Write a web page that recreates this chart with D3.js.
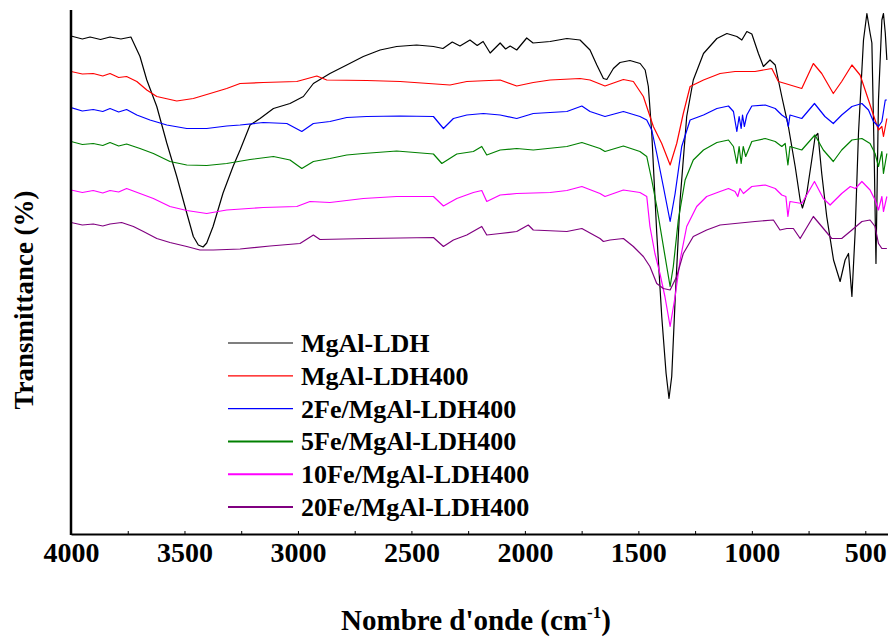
<!DOCTYPE html>
<html>
<head>
<meta charset="utf-8">
<script src="https://cdn.jsdelivr.net/npm/d3@7"></script>
<style>
  html, body { margin: 0; padding: 0; background: #fff; }
  text { font-family: "Liberation Serif", "Times New Roman", "DejaVu Serif", serif; font-weight: bold; }
</style>
</head>
<body>
<div id="chart-area"></div>
<script>
// FTIR spectra, [wavenumber cm-1, transmittance]
const mgalLdh = [
  [4000, 99.6], [3950, 99.0], [3916, 99.4], [3870, 98.9], [3828, 99.4], [3780, 99.0],
  [3736, 99.4], [3696, 95.5], [3666, 90.8],
  [3622, 85.5], [3578, 78.2], [3534, 71.5], [3490, 64.2], [3461, 59.5], [3439, 57.8],
  [3418, 57.4], [3402, 58.2], [3374, 61.5], [3330, 68.2], [3286, 73.5], [3255, 76.8],
  [3211, 81.8], [3167, 83.1], [3108, 85.1], [3035, 86.1], [2976, 87.5], [2932, 90.1],
  [2859, 92.1], [2785, 93.8], [2712, 95.5], [2638, 96.8], [2565, 97.5], [2477, 97.8],
  [2403, 97.5], [2361, 97.1], [2320, 98.4], [2286, 97.6], [2242, 98.8], [2210, 97.7],
  [2184, 98.5], [2153, 96.2],
  [2109, 98.2], [2085, 97.0], [2065, 97.6], [2036, 96.8], [1992, 99.2], [1964, 98.2], [1889, 98.5],
  [1815, 99.1], [1757, 98.8], [1713, 96.8], [1683, 93.8], [1654, 91.1], [1639, 90.9],
  [1610, 93.1], [1581, 94.3], [1537, 94.7], [1492, 94.1], [1470, 92.8], [1456, 89.5],
  [1441, 80.2], [1419, 60.2], [1397, 43.5], [1378, 32.2], [1365, 27.1], [1353, 31.5],
  [1338, 46.8], [1316, 66.8], [1287, 83.5], [1258, 90.8], [1213, 96.1], [1154, 99.1],
  [1110, 100.1], [1066, 99.5], [1044, 98.8], [1022, 100.5], [1000, 100], [971, 96.1],
  [949, 93.5], [920, 94.8], [897, 93.8], [868, 87.5], [839, 81.5], [809, 73.5],
  [787, 66.8], [777, 65.2], [758, 68.1], [736, 74.8], [721, 79.5], [709, 80.1],
  [692, 72.1], [670, 63.5], [640, 54.8], [611, 50.5], [589, 54.8], [574, 56.1],
  [559, 47.5], [545, 60.2], [530, 80.2], [508, 98.8], [493, 104.1], [479, 100.2],
  [471, 98.2], [460, 73.5], [453, 54.1], [442, 86.8], [427, 102.8], [420, 104.1],
  [412, 100.2], [405, 94.8]
];

const mgalLdh400 = [
  [4000, 92.5], [3950, 92.0], [3902, 92.1], [3860, 91.6], [3828, 92.1], [3790, 91.3],
  [3755, 91.5], [3710, 90.5], [3666, 88.8],
  [3622, 87.5], [3534, 86.6], [3461, 87.1], [3387, 88.1], [3314, 89.1], [3255, 90.1],
  [3153, 90.3], [3005, 90.5], [2917, 91.6], [2873, 90.8], [2697, 90.7], [2550, 90.5],
  [2330, 89.8], [2256, 90.5], [2109, 90.8], [2036, 89.6], [1963, 90.3], [1889, 90.8],
  [1757, 91.1], [1713, 90.8], [1647, 89.6], [1566, 90.9], [1522, 90.5], [1478, 87.5],
  [1434, 81.5], [1397, 78.1], [1360, 73.8], [1331, 78.1], [1302, 84.1], [1272, 89.5],
  [1213, 90.8], [1140, 92.1], [1074, 92.5], [986, 92.5], [912, 93.1], [883, 90.5],
  [853, 90.1], [780, 89.1], [729, 94.1], [692, 92.1], [641, 88.1], [604, 90.5],
  [559, 93.8], [523, 91.8], [486, 86.8], [457, 82.8], [442, 80.8], [427, 81.5],
  [420, 79.5], [405, 83.1]
];

const fe2 = [
  [4000, 85.3], [3950, 84.6], [3902, 84.9], [3860, 84.5], [3828, 85.1], [3790, 84.4],
  [3755, 84.9], [3710, 83.8], [3652, 82.8],
  [3578, 81.8], [3490, 81.1], [3402, 81.1], [3314, 81.6], [3255, 81.8], [3153, 82.3],
  [3049, 82.1], [2983, 80.5], [2932, 82.1], [2859, 82.5], [2785, 83.3], [2697, 83.5],
  [2550, 83.6], [2403, 83.5], [2359, 81.1], [2315, 83.1], [2256, 83.8], [2183, 84.1],
  [2109, 83.8], [2036, 83.1], [1963, 84.1], [1815, 84.5], [1749, 85.6], [1713, 84.5],
  [1647, 83.5], [1566, 84.5], [1493, 83.5], [1463, 82.8], [1441, 80.8], [1419, 76.1],
  [1390, 69.5], [1360, 62.5], [1338, 68.1], [1309, 77.5], [1272, 82.8], [1213, 83.8],
  [1154, 85.1], [1103, 85.6], [1081, 84.5], [1066, 80.5], [1056, 83.5], [1047, 81.1],
  [1041, 83.8], [1033, 81.5], [1022, 83.8], [1000, 85.6], [941, 85.8], [897, 85.1],
  [868, 83.8], [846, 83.1], [839, 81.5], [832, 83.8], [780, 83.1], [724, 86.1],
  [678, 83.5], [641, 82.1], [604, 83.8], [559, 85.5], [515, 86.1], [486, 84.8],
  [464, 82.5], [442, 81.5], [427, 82.5], [412, 86.8], [405, 86.8]
];

const fe5 = [
  [4000, 78.5], [3950, 77.9], [3902, 78.1], [3860, 77.7], [3828, 78.3], [3790, 77.6],
  [3755, 78.0], [3696, 77.1], [3637, 76.1],
  [3564, 74.5], [3490, 73.8], [3402, 73.7], [3314, 74.1], [3211, 74.9], [3108, 75.5],
  [3035, 74.8], [2983, 73.1], [2932, 74.5], [2859, 75.1], [2785, 75.8], [2712, 76.1],
  [2565, 76.6], [2403, 76.0], [2366, 74.1], [2300, 76.0], [2227, 76.5], [2190, 77.5],
  [2168, 75.8], [2109, 76.8], [2036, 77.1], [1963, 76.8], [1815, 77.5], [1749, 78.3],
  [1669, 77.1], [1647, 76.5], [1566, 77.6], [1493, 76.5], [1463, 75.5], [1441, 70.8],
  [1419, 65.5], [1397, 59.5], [1375, 53.5], [1360, 49.5], [1346, 53.5], [1324, 62.8],
  [1294, 70.8], [1258, 74.8], [1213, 76.8], [1154, 78.3], [1103, 78.8], [1081, 77.5],
  [1066, 74.1], [1056, 77.5], [1047, 74.1], [1038, 77.5], [1027, 75.5], [1000, 78.5],
  [941, 79.1], [897, 78.5], [868, 77.5], [853, 78.1], [841, 73.8], [832, 77.5],
  [780, 76.8], [722, 79.8], [685, 76.8], [641, 74.5], [604, 76.8], [559, 78.8],
  [515, 79.1], [479, 78.1], [457, 76.1], [442, 73.5], [427, 76.5], [420, 72.1],
  [405, 76.1]
];

const fe10 = [
  [4000, 68.8], [3950, 68.3], [3902, 68.7], [3860, 68.2], [3828, 68.7], [3790, 68.4],
  [3755, 69.1], [3696, 68.1], [3637, 67.1],
  [3564, 65.5], [3490, 64.7], [3402, 64.1], [3314, 64.8], [3153, 65.3], [3005, 65.5],
  [2947, 66.5], [2859, 66.3], [2712, 67.1], [2565, 67.5], [2403, 67.5], [2359, 65.6],
  [2300, 67.1], [2227, 68.3], [2190, 68.7], [2168, 66.5], [2109, 67.8], [2036, 68.1],
  [1889, 68.3], [1815, 68.7], [1749, 69.5], [1669, 68.1], [1647, 67.5], [1566, 68.8],
  [1493, 68.3], [1463, 67.5], [1449, 61.5], [1427, 56.1], [1405, 52.1], [1383, 47.5],
  [1360, 41.5], [1338, 47.5], [1316, 54.8], [1287, 61.5], [1243, 65.5], [1199, 67.5],
  [1140, 68.5], [1103, 69.1], [1074, 68.5], [1062, 67.5], [1052, 69.1], [1037, 68.1],
  [1000, 69.5], [941, 69.8], [897, 69.1], [868, 67.8], [850, 67.5], [841, 63.5],
  [832, 66.5], [780, 66.1], [724, 70.5], [685, 67.1], [655, 65.8], [604, 68.1],
  [566, 69.5], [544, 69.1], [515, 70.5], [479, 68.8], [457, 66.8], [442, 64.8],
  [427, 67.5], [420, 64.5], [405, 67.5]
];

const fe20 = [
  [4000, 62.3], [3950, 61.8], [3902, 62.0], [3860, 61.6], [3828, 62.0], [3777, 62.3],
  [3725, 61.5], [3681, 60.5],
  [3622, 59.1], [3564, 58.3], [3490, 57.5], [3432, 56.8], [3373, 56.8], [3255, 57.0],
  [3123, 57.6], [2991, 58.1], [2932, 59.8], [2903, 58.9], [2697, 59.1], [2403, 59.3],
  [2359, 57.5], [2315, 58.8], [2256, 59.8], [2190, 61.5], [2168, 59.8], [2109, 60.1],
  [2036, 60.5], [1985, 61.8], [1963, 60.8], [1815, 60.5], [1749, 61.1], [1669, 59.1],
  [1654, 58.5], [1625, 58.8], [1566, 59.1], [1522, 57.5], [1478, 55.5], [1449, 53.5],
  [1419, 50.1], [1390, 49.1], [1360, 48.8], [1331, 51.5], [1302, 56.1], [1258, 59.5],
  [1199, 60.8], [1140, 61.8], [1074, 62.1], [986, 62.5], [905, 62.8], [876, 60.8],
  [846, 61.1], [817, 61.1], [787, 59.1], [729, 63.5], [692, 61.5], [648, 59.1],
  [604, 59.1], [559, 60.8], [515, 62.5], [479, 62.8], [457, 61.5], [442, 58.1],
  [427, 57.1], [405, 57.1]
];

const seriesNames = ['MgAl-LDH', 'MgAl-LDH400', '2Fe/MgAl-LDH400', '5Fe/MgAl-LDH400',
                     '10Fe/MgAl-LDH400', '20Fe/MgAl-LDH400'];
const seriesData = [mgalLdh, mgalLdh400, fe2, fe5, fe10, fe20];
const seriesColors = ['#000000', '#ff0000', '#0000ff', '#008000', '#ff00ff', '#800080'];

const xTickValues = d3.range(4000, 499, -250);   // every 250, labels on the 500s

// Document
const WIDTH = 888;
const HEIGHT = 637;
const MARGIN = {LEFT: 71, RIGHT: 0, TOP: 10, BOTTOM: 103};

const wGraph = WIDTH - MARGIN.LEFT - MARGIN.RIGHT;
const hGraph = HEIGHT - MARGIN.TOP - MARGIN.BOTTOM;

const svg = d3.select('#chart-area').append('svg')
    .attr('width', WIDTH)
    .attr('height', HEIGHT);

const group = svg.append('g')
    .attr('transform', `translate(${MARGIN.LEFT}, ${MARGIN.TOP})`);

// Wavenumber runs right-to-left
const xScale = d3.scaleLinear()
    .domain([4000, 400])
    .range([0, wGraph]);

const yScale = d3.scaleLinear()
    .domain([0, 104.8])
    .range([hGraph, 0]);

group.append('clipPath')
    .attr('id', 'plot-clip')
    .append('rect')
    .attr('x', 0).attr('y', -2)
    .attr('width', wGraph).attr('height', hGraph + 2);

// Spectra
const line = d3.line()
    .x(d => xScale(d[0]))
    .y(d => yScale(d[1]));

group.append('g')
    .attr('clip-path', 'url(#plot-clip)')
    .selectAll('path')
    .data(seriesData)
    .enter()
    .append('path')
    .attr('d', d => line(d))
    .attr('fill', 'none')
    .attr('stroke', (d, i) => seriesColors[i])
    .attr('stroke-width', 1.2)
    .attr('stroke-linejoin', 'round');

// X Axis, ticks pointing inwards
const xAxisCall = d3.axisBottom(xScale)
    .tickValues(xTickValues)
    .tickSize(-3)
    .tickSizeOuter(0)
    .tickPadding(8)
    .tickFormat(d => d % 500 === 0 ? d : '');

const xAxis = group.append('g')
    .attr('class', 'x axis')
    .attr('transform', `translate(0,${hGraph})`)
    .call(xAxisCall);

xAxis.select('.domain').attr('stroke', '#000').attr('stroke-width', 2);
xAxis.selectAll('.tick line').attr('stroke', '#000').attr('stroke-width', 1);
xAxis.selectAll('text')
    .attr('font-size', '28px')
    .attr('fill', '#000');

// Y Axis: bare line, no ticks
group.append('line')
    .attr('x1', 0).attr('x2', 0)
    .attr('y1', 0).attr('y2', hGraph + 1)
    .attr('stroke', '#000')
    .attr('stroke-width', 2.5);

// Axis labels
const xLabel = svg.append('text')
    .attr('x', 476)
    .attr('y', 630)
    .attr('font-size', '29px')
    .attr('text-anchor', 'middle')
    .attr('fill', '#000');
xLabel.append('tspan').text("Nombre d'onde (cm");
xLabel.append('tspan').attr('font-size', '17px').attr('dy', -12).text('-1');
xLabel.append('tspan').attr('dy', 12).text(')');

svg.append('text')
    .attr('transform', 'translate(33, 300) rotate(-90)')
    .attr('font-size', '27px')
    .attr('text-anchor', 'middle')
    .attr('fill', '#000')
    .text('Transmittance (%)');

// Legend
const legend = svg.append('g')
    .attr('transform', 'translate(228, 343)');

const rows = legend.selectAll('g')
    .data(seriesNames)
    .enter()
    .append('g')
    .attr('transform', (d, i) => `translate(0, ${i * 32.8})`);

rows.append('line')
    .attr('x1', 0).attr('x2', 65)
    .attr('y1', 0).attr('y2', 0)
    .attr('stroke', (d, i) => seriesColors[i])
    .attr('stroke-width', (d, i) => i > 2 ? 2 : 1.2);

rows.append('text')
    .attr('x', 73)
    .attr('y', 9)
    .attr('font-size', '26px')
    .attr('fill', '#000')
    .text(d => d);
</script>
</body>
</html>
